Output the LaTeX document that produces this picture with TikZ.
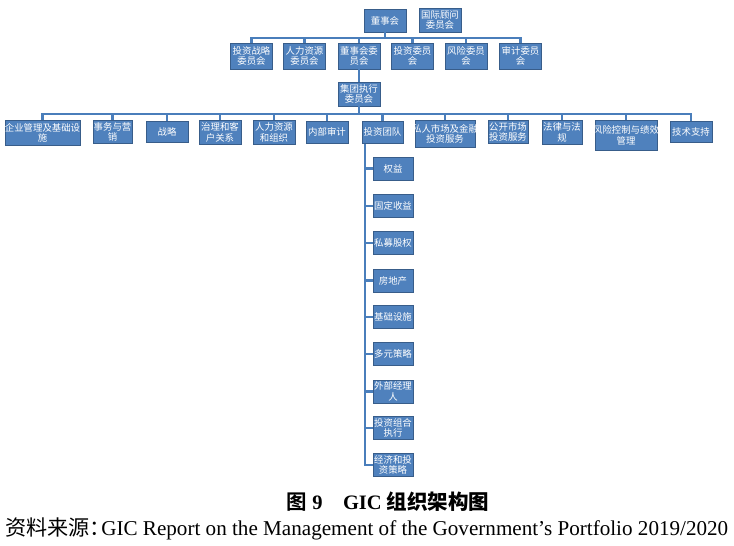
\documentclass[tikz,border=0pt]{standalone}
\usepackage{fontspec}
\setmainfont{Liberation Serif}
\newfontfamily\cjk{Noto Sans CJK SC}
\newfontfamily\cjkb{Noto Sans CJK SC Bold}
\newcommand{\ovl}[1]{\makebox[0pt]{#1}}
\begin{document}
\begin{tikzpicture}[x=1pt,y=-1pt,
  orgbox/.style={draw=boxedge, fill=boxfill, line width=0.8pt, text=white, inner sep=0pt, align=center,
     font=\cjk\fontsize{9.4}{10.6}\selectfont},
  link/.style={draw=linkcol, line width=2.2pt}]
\definecolor{boxfill}{HTML}{4F81BD}
\definecolor{boxedge}{HTML}{385D8A}
\definecolor{linkcol}{HTML}{4A7EBB}
\useasboundingbox (0,0) rectangle (734,546);
\coordinate (bus1) at (385,38);
\coordinate (bus2) at (359,114);
% row 1
\node[orgbox, minimum width=42pt, minimum height=23pt] (dsh) at (385,20.5) {董事会};
\node[orgbox, minimum width=42pt, minimum height=24pt] (gjgw) at (440,20) {国际顾问\\委员会};
% row 2
\foreach \n/\x/\t in {ra/251.5/投资战略\\委员会, rb/304.5/人力资源\\委员会, rc/359/董事会委\\员会,
  rd/412.5/投资委员\\会, re/466/风险委员\\会, rf/520.5/审计委员\\会}
  \node[orgbox, minimum width=42pt, minimum height=26pt] (\n) at (\x,56) {\t};
\node[orgbox, minimum width=42pt, minimum height=24pt] (jt) at (359,94) {集团执行\\委员会};
% row 3
\node[orgbox, anchor=north, minimum width=75pt, minimum height=25pt] (s1) at (42.5,120) {\ovl{企业管理及基础设}\\施};
\node[orgbox, anchor=north, minimum width=39pt, minimum height=23pt] (s2) at (112.5,120) {事务与营\\销};
\node[orgbox, anchor=north, minimum width=42pt, minimum height=21pt] (s3) at (167,121) {战略};
\node[orgbox, anchor=north, minimum width=42pt, minimum height=24pt] (s4) at (220,120) {治理和客\\户关系};
\node[orgbox, anchor=north, minimum width=42pt, minimum height=24pt] (s5) at (274,120) {人力资源\\和组织};
\node[orgbox, anchor=north, minimum width=42pt, minimum height=22pt] (s6) at (327,121) {内部审计};
\node[orgbox, anchor=north, minimum width=41pt, minimum height=22pt] (tz) at (382.5,121) {投资团队};
\node[orgbox, anchor=north, minimum width=60pt, minimum height=27pt] (s8) at (445,120) {\ovl{私人市场及金融}\\投资服务};
\node[orgbox, anchor=north, minimum width=40pt, minimum height=23pt] (s9) at (508,120) {公开市场\\投资服务};
\node[orgbox, anchor=north, minimum width=40pt, minimum height=24pt] (s10) at (562,120) {法律与法\\规};
\node[orgbox, anchor=north, minimum width=62pt, minimum height=30pt] (s11) at (626,120) {\ovl{风险控制与绩效}\\管理};
\node[orgbox, anchor=north, minimum width=42pt, minimum height=21pt] (s12) at (691,121) {技术支持};
% investment team children
\foreach \n/\y/\t in {c1/168.5/权益, c2/206/固定收益, c3/243/私募股权, c4/280.5/房地产, c5/317/基础设施,
  c6/354/多元策略, c7/391.5/外部经理\\人, c8/428/投资组合\\执行, c9/465/经济和投\\资策略}
  \node[orgbox, minimum width=40pt, minimum height=23pt] (\n) at (393,\y) {\t};
% connectors
\draw[link] (ra.north) |- (bus1) -| (rf.north);
\draw[link] (dsh.south) -- (dsh.south |- bus1);
\foreach \n in {rb,rc,rd,re} \draw[link] (\n.north) -- (\n.north |- bus1);
\draw[link] (rc.south) -- (jt.north);
\draw[link] (s1.north) |- (bus2) -| (s12.north);
\draw[link] (jt.south) -- (bus2);
\foreach \n in {s2,s3,s4,s5,s6,tz,s8,s9,s10,s11} \draw[link] (\n.north) -- (\n.north |- bus2);
\foreach \n in {c1,c2,c3,c4,c5,c6,c7,c8,c9} \draw[link] ([xshift=3pt]tz.south west) |- (\n.west);
% caption
\node[anchor=center, inner sep=0pt] (cap) at (388,502)
  {\fontsize{20.5}{22}\selectfont{\cjkb 图}\bfseries\ 9\hspace{1em}GIC {\cjkb 组织架构图}};
\node[anchor=west, inner sep=0pt] (src) at (5,528.5)
  {\resizebox{723pt}{!}{\fontsize{18}{20}\selectfont{\cjk 资料来源：}\hspace{-0.45em}GIC Report on the Management of the Government’s Portfolio 2019/2020}};
\end{tikzpicture}
\end{document}
